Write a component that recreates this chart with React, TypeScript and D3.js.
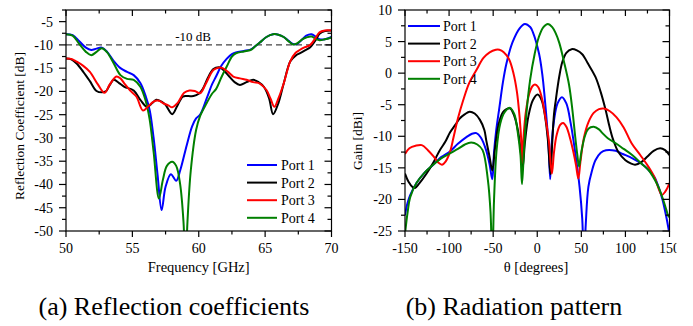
import React from "react";
import * as d3 from "d3";

// ---------- (a) Reflection coefficients: [frequency GHz, dB] ----------
const reflPort1: [number, number][] = [
  [50, -7.7], [50.5, -7.9], [51, -9.2], [51.5, -10.6], [51.9, -11.1], [52.3, -10.8], [52.7, -10.6],
  [53.1, -11.5], [53.6, -13.5], [54.1, -15.0], [54.6, -15.8], [55.1, -16.5], [55.6, -18.2], [56.0, -21],
  [56.3, -24], [56.6, -30], [56.9, -38], [57.2, -45.5], [57.5, -40.5], [57.9, -37.8], [58.3, -39.2],
  [58.6, -37], [59.1, -31.5], [59.5, -27.5], [59.8, -25.8], [60.1, -25.0], [60.6, -21.5], [61.0, -18.5],
  [61.3, -16.8], [61.7, -14.5], [62.1, -13.0], [62.5, -12.0], [62.8, -11.6], [63.4, -11.3], [63.9, -11.0],
  [64.3, -10.2], [64.6, -9.5], [65.1, -8.3], [65.6, -7.7], [66.0, -7.8], [66.4, -8.3], [66.8, -9.2],
  [67.1, -9.8], [67.4, -9.8], [67.8, -8.8], [68.1, -8.0], [68.5, -7.7], [68.8, -8.2], [69.1, -8.8],
  [69.5, -8.8], [70, -8.3],
];
const reflPort2: [number, number][] = [
  [50, -12.9], [50.4, -13.1], [50.8, -14.0], [51.3, -15.8], [51.8, -17.8], [52.3, -19.9], [52.7, -20.2],
  [53.0, -20.0], [53.3, -18.6], [53.6, -17.5], [54.0, -18.2], [54.4, -19.0], [55.1, -19.8], [55.6, -21.8],
  [56.1, -23.3], [56.5, -22.5], [56.8, -21.8], [57.2, -22.2], [57.5, -22.9], [58.0, -24.9], [58.4, -23.0],
  [58.8, -21.1], [59.2, -21.0], [59.6, -21.0], [60.0, -20.5], [60.3, -19.5], [60.7, -17], [61.1, -15.2],
  [61.5, -14.8], [61.7, -15.0], [62.3, -16.8], [62.7, -18.0], [63.1, -18.6], [63.6, -18.0], [64.1, -17.5],
  [64.5, -18.0], [64.9, -19.0], [65.3, -21.5], [65.6, -24.9], [66.0, -22.5], [66.4, -18.3], [66.9, -13.5],
  [67.3, -12.3], [67.6, -11.8], [68.0, -11.2], [68.4, -10.5], [68.8, -9.0], [69.1, -7.6], [69.5, -7.0],
  [70, -6.9],
];
const reflPort3: [number, number][] = [
  [50, -12.9], [50.4, -13.0], [50.8, -13.6], [51.3, -14.5], [51.8, -15.8], [52.4, -18.5], [52.9, -20.3],
  [53.3, -18.5], [53.8, -16.8], [54.1, -17.2], [54.4, -18.3], [54.9, -20.0], [55.3, -21.1], [55.8, -24.1],
  [56.2, -23.2], [56.6, -22.2], [57.0, -22.0], [57.3, -22.5], [57.7, -23.0], [58.0, -23.4], [58.4, -22.5],
  [58.9, -20.3], [59.3, -19.8], [59.7, -19.9], [60.1, -20.4], [60.5, -18.5], [61.1, -15.4], [61.5, -14.9],
  [61.8, -15.0], [62.2, -15.8], [62.6, -16.8], [63.1, -17.2], [63.6, -17.5], [64.1, -18.0], [64.6, -18.3],
  [65.1, -19.7], [65.4, -21.5], [65.7, -23.3], [66.0, -21.5], [66.4, -18.3], [66.9, -13.5], [67.3, -11.7],
  [67.6, -11.1], [68.0, -10.5], [68.4, -10.0], [68.8, -8.5], [69.1, -7.3], [69.5, -6.9], [70, -6.9],
];
const reflPort4: [number, number][] = [
  [50, -7.7], [50.5, -8.0], [51, -9.8], [51.5, -11.5], [51.9, -12.2], [52.3, -11.5], [52.7, -10.7],
  [53.1, -11.6], [53.6, -14.0], [54.1, -16.5], [54.6, -17.3], [55.1, -17.5], [55.6, -19.0], [56.0, -22],
  [56.3, -26], [56.6, -33], [57.0, -43], [57.3, -39], [57.6, -36], [58.0, -35.1], [58.3, -36],
  [58.6, -40], [58.85, -48], [59.0, -58], [59.15, -48], [59.4, -37], [59.8, -28.3], [60.1, -25.3],
  [60.6, -22.5], [61.0, -20.5], [61.3, -19.5], [61.7, -17], [62.1, -14.7], [62.5, -12.5], [62.8, -11.8],
  [63.4, -11.4], [63.9, -11.1], [64.3, -10.2], [64.6, -9.5], [65.1, -8.3], [65.6, -7.7], [66.0, -7.8],
  [66.4, -8.3], [66.8, -9.3], [67.1, -9.9], [67.4, -9.7], [67.8, -8.8], [68.1, -8.4], [68.5, -8.2],
  [68.8, -8.7], [69.1, -9.0], [69.5, -8.8], [70, -8.4],
];

// ---------- (b) Radiation pattern: [theta deg, gain dBi] ----------
const gainPort1: [number, number][] = [
  [-150, -22.5], [-147, -20.5], [-144, -19.3], [-137, -17.4], [-128, -15.8], [-118, -14.5], [-109, -13.3],
  [-99, -12.4], [-90, -11.2], [-80, -10.1], [-74, -9.6], [-69, -9.5], [-64, -10.2], [-58, -12.2],
  [-54, -14.5], [-51, -16.8], [-49, -12.5], [-46.5, -9], [-43, -5.5], [-39, -1.5], [-35, 1.5],
  [-28, 4.9], [-20, 7.1], [-14, 7.8], [-8, 7.3], [-5, 6.5], [2, 3.1], [6, -0.5], [8, -3.2], [11, -8],
  [13, -12], [14.7, -16.8], [16, -12], [19, -7.5], [23, -4.8], [28, -3.8], [33, -4.8], [38, -8],
  [43, -12.5], [48, -18], [51, -23], [53, -30], [55, -24], [58, -18], [62, -15.5], [66, -13.8],
  [72, -12.6], [78, -12.2], [89, -12.3], [97, -12.8], [108, -13.5], [118, -14.3], [126, -15.3],
  [133, -16.5], [138, -18.2], [142, -20], [146, -22.5], [150, -25.5],
];
const gainPort2: [number, number][] = [
  [-150, -15.9], [-146, -17.2], [-141, -18.1], [-138.7, -18.2], [-134, -17.5], [-125.5, -15.9],
  [-118, -14.2], [-110.5, -12.2], [-104, -10.8], [-99, -9.4], [-93, -8.2], [-88, -7.2], [-82, -6.5],
  [-76.7, -6.1], [-71, -6.4], [-65, -7.4], [-60, -9], [-57.9, -10.6], [-54, -13.3], [-51, -15.4],
  [-48, -12], [-44, -8.2], [-39, -6.2], [-35, -5.7], [-30.5, -5.6], [-26, -6.8], [-22, -9], [-19, -12],
  [-16.5, -15], [-14, -11], [-10, -6.8], [-5, -4.3], [0.4, -3.4], [5, -4.3], [9, -7], [12, -10.5],
  [15, -16], [17, -11], [19, -6.5], [21, -4.3], [25, -0.5], [28.5, 1.8], [33, 3.2], [39, 3.8], [45, 3.6],
  [51, 3.0], [58, 1.4], [66, -0.6], [72, -3], [77.5, -5.8], [82, -8.5], [86, -10.5], [92, -12.5],
  [100, -13.8], [106, -14.3], [111, -14.5], [118, -14.1], [125, -13.2], [132, -12.3], [139.5, -11.9],
  [145, -12.2], [150, -13],
];
const gainPort3: [number, number][] = [
  [-150, -12.8], [-145, -11.9], [-138, -11.5], [-131, -11.4], [-124, -12.2], [-117, -13.3], [-112, -14.2],
  [-108, -14.5], [-104, -14.0], [-99, -12.5], [-95, -10.2], [-90, -7.2], [-84, -4.3], [-77, -1.5],
  [-69, 0.5], [-61, 2.4], [-54, 3.3], [-47, 3.7], [-43, 3.7], [-38, 3.3], [-32, 2.2], [-27, 0],
  [-23, -3], [-20, -7], [-18, -11], [-17.3, -14.3], [-15.5, -10], [-13, -6.2], [-9, -3.2], [-5, -2],
  [-2.6, -1.8], [1, -2.2], [5, -3.8], [9, -6.8], [13, -10.5], [16.6, -15.9], [19, -12.5], [22, -9.8],
  [26, -8.2], [29.3, -7.9], [33, -8.5], [37, -10.2], [41, -12.5], [44, -14.6], [46.6, -16.7], [49, -14],
  [53, -10.2], [58, -7.8], [64, -6.3], [70, -5.7], [75.6, -5.6], [82, -6.0], [90, -7.0], [98, -8.6],
  [107, -11.1], [117, -13.0], [126, -14.8], [133, -16.5], [138, -18.4], [141.3, -19.3], [145, -18.8],
  [150, -17.4],
];
const gainPort4: [number, number][] = [
  [-150, -25.5], [-147, -22], [-144, -19.6], [-137, -17.4], [-128, -15.8], [-118, -14.5], [-109, -13.5],
  [-99, -12.7], [-90, -12], [-82, -11.3], [-75, -11.0], [-68, -11.3], [-62, -12.2], [-56, -16.9],
  [-53, -22], [-51, -30], [-49, -20], [-46, -12], [-42, -8], [-37, -6.2], [-31, -5.5], [-26, -6.5],
  [-22, -9.5], [-19, -13], [-17.3, -17.6], [-15, -12], [-12, -6], [-8, -1], [-3, 3], [2, 5.8], [7, 7.3],
  [12, 7.8], [17, 7.3], [21, 6.3], [25, 4.8], [30, 2], [36, -1.8], [40, -6], [43, -10], [45.5, -13],
  [47.4, -14.8], [50, -12.5], [54, -10], [58, -8.8], [64, -8.5], [70, -8.9], [74, -9.5], [80, -10.3],
  [89, -11.1], [98, -12.0], [108, -13.0], [118, -14.3], [126, -15.3], [133, -16.8], [138, -18.2],
  [141, -19.3], [145, -21], [149, -22.7], [150, -22.8],
];

const portNames = ["Port 1", "Port 2", "Port 3", "Port 4"];
const portColors = ["#0000FF", "#000000", "#FF0000", "#008000"];

const freqMajorTicks = [50, 55, 60, 65, 70];
const freqMinorTicks = [52.5, 57.5, 62.5, 67.5];
const reflMajorTicks = [-5, -10, -15, -20, -25, -30, -35, -40, -45, -50];
const reflMinorTicks = [-2.5, -7.5, -12.5, -17.5, -22.5, -27.5, -32.5, -37.5, -42.5, -47.5];
const thetaMajorTicks = [-150, -100, -50, 0, 50, 100, 150];
const thetaMinorTicks = [-125, -75, -25, 25, 75, 125];
const gainMajorTicks = [10, 5, 0, -5, -10, -15, -20, -25];
const gainMinorTicks = [7.5, 2.5, -2.5, -7.5, -12.5, -17.5, -22.5];
const thresholdDb = -10;

const FONT = "Liberation Serif, DejaVu Serif, serif";

type Scale = d3.ScaleLinear<number, number>;

function Frame({ x, y, majX, minX, majY, minY, fmtX, fmtY }: {
  x: Scale; y: Scale; majX: number[]; minX: number[]; majY: number[]; minY: number[];
  fmtX: (v: number) => string; fmtY: (v: number) => string;
}) {
  const [x0, x1] = x.range();
  const [y0, y1] = y.range(); // y0 bottom, y1 top
  const MJ = 6, MN = 3.5;
  const lines: React.ReactElement[] = [];
  majX.forEach((v, i) => {
    const px = x(v);
    lines.push(<line key={"bx" + i} x1={px} x2={px} y1={y0} y2={y0 + MJ} />);
    lines.push(<line key={"tx" + i} x1={px} x2={px} y1={y1} y2={y1 + MJ} />);
  });
  minX.forEach((v, i) => {
    const px = x(v);
    lines.push(<line key={"bxm" + i} x1={px} x2={px} y1={y0} y2={y0 + MN} />);
    lines.push(<line key={"txm" + i} x1={px} x2={px} y1={y1} y2={y1 + MN} />);
  });
  majY.forEach((v, i) => {
    const py = y(v);
    lines.push(<line key={"ly" + i} x1={x0 - 7} x2={x0} y1={py} y2={py} />);
    lines.push(<line key={"ry" + i} x1={x1 - 7} x2={x1} y1={py} y2={py} />);
  });
  minY.forEach((v, i) => {
    const py = y(v);
    lines.push(<line key={"lym" + i} x1={x0 - 4} x2={x0} y1={py} y2={py} />);
    lines.push(<line key={"rym" + i} x1={x1 - 4} x2={x1} y1={py} y2={py} />);
  });
  return (
    <g>
      <rect x={x0} y={y1} width={x1 - x0} height={y0 - y1} fill="none" stroke="#000" strokeWidth={1.2} />
      <g stroke="#000" strokeWidth={1.2}>{lines}</g>
      <g style={{ fontFamily: FONT }} fontSize={14} fill="#000">
        {majX.map((v, i) => (
          <text key={"xl" + i} x={x(v)} y={y0 + 22} textAnchor="middle">{fmtX(v)}</text>
        ))}
        {majY.map((v, i) => (
          <text key={"yl" + i} x={x0 - 13} y={y(v) + 5} textAnchor="end">{fmtY(v)}</text>
        ))}
      </g>
    </g>
  );
}

export default function App() {
  const lx = d3.scaleLinear().domain([50, 70]).range([66, 331.5]);
  const ly = d3.scaleLinear().domain([-50, -2.5]).range([231, 10]);
  const rx = d3.scaleLinear().domain([-150, 150]).range([405, 669.5]);
  const ry = d3.scaleLinear().domain([-25, 10]).range([231, 10]);

  const lineL = d3.line<[number, number]>().x((d) => lx(d[0])).y((d) => ly(d[1])).curve(d3.curveCatmullRom.alpha(0.5));
  const lineR = d3.line<[number, number]>().x((d) => rx(d[0])).y((d) => ry(d[1])).curve(d3.curveCatmullRom.alpha(0.5));

  const reflSeries = [reflPort1, reflPort2, reflPort3, reflPort4];
  const gainSeries = [gainPort1, gainPort2, gainPort3, gainPort4];
  const reflOrder = [0, 1, 3, 2];
  const gainOrder = [0, 1, 2, 3];
  const fmt = (v: number) => String(v);
  const txt = { fontFamily: FONT };

  return (
    <svg width={693} height={326} style={{ position: "absolute", left: 0, top: 0, background: "#fff" }}>
      <defs>
        <clipPath id="clipL"><rect x={66} y={10} width={265.5} height={221} /></clipPath>
        <clipPath id="clipR"><rect x={405} y={10} width={264.5} height={221} /></clipPath>
        <clipPath id="clipPage"><rect x={0} y={0} width={676.5} height={326} /></clipPath>
      </defs>

      {/* (a) */}
      <line x1={lx(50)} x2={lx(70)} y1={ly(thresholdDb)} y2={ly(thresholdDb)} stroke="#444" strokeWidth={1.3} strokeDasharray="6,4" />
      <text x={193} y={41} style={txt} fontSize={13} textAnchor="middle">-10 dB</text>
      <g clipPath="url(#clipL)" fill="none" strokeWidth={2}>
        {reflOrder.map((i) => (
          <path key={i} d={lineL(reflSeries[i]) || ""} stroke={portColors[i]} />
        ))}
      </g>
      <Frame x={lx} y={ly} majX={freqMajorTicks} minX={freqMinorTicks} majY={reflMajorTicks} minY={reflMinorTicks} fmtX={fmt} fmtY={fmt} />
      <g style={txt} fontSize={14}>
        {portNames.map((n, i) => (
          <g key={n}>
            <line x1={247} x2={277} y1={165 + i * 17.6} y2={165 + i * 17.6} stroke={portColors[i]} strokeWidth={2} />
            <text x={281} y={165 + i * 17.6 + 5}>{n}</text>
          </g>
        ))}
      </g>
      <text x={198.7} y={272} style={txt} fontSize={14.5} textAnchor="middle">Frequency [GHz]</text>
      <text transform="translate(24,126) rotate(-90)" style={txt} fontSize={13.5} textAnchor="middle">Reflection Coefficient [dB]</text>

      {/* (b) */}
      <g clipPath="url(#clipPage)">
        <g clipPath="url(#clipR)" fill="none" strokeWidth={2}>
          {gainOrder.map((i) => (
            <path key={i} d={lineR(gainSeries[i]) || ""} stroke={portColors[i]} />
          ))}
        </g>
        <Frame x={rx} y={ry} majX={thetaMajorTicks} minX={thetaMinorTicks} majY={gainMajorTicks} minY={gainMinorTicks} fmtX={fmt} fmtY={fmt} />
      </g>
      <g style={txt} fontSize={14}>
        {portNames.map((n, i) => (
          <g key={n}>
            <line x1={408} x2={440} y1={26 + i * 17.6} y2={26 + i * 17.6} stroke={portColors[i]} strokeWidth={2} />
            <text x={443} y={26 + i * 17.6 + 5}>{n}</text>
          </g>
        ))}
      </g>
      <text x={536} y={272} style={txt} fontSize={14.5} textAnchor="middle">θ [degrees]</text>
      <text transform="translate(362,141) rotate(-90)" style={txt} fontSize={13.5} textAnchor="middle">Gain [dBi]</text>

      {/* captions */}
      <text x={174} y={315} style={txt} fontSize={26} textAnchor="middle">(a) Reflection coefficients</text>
      <text x={514} y={315} style={txt} fontSize={26} textAnchor="middle">(b) Radiation pattern</text>
    </svg>
  );
}
